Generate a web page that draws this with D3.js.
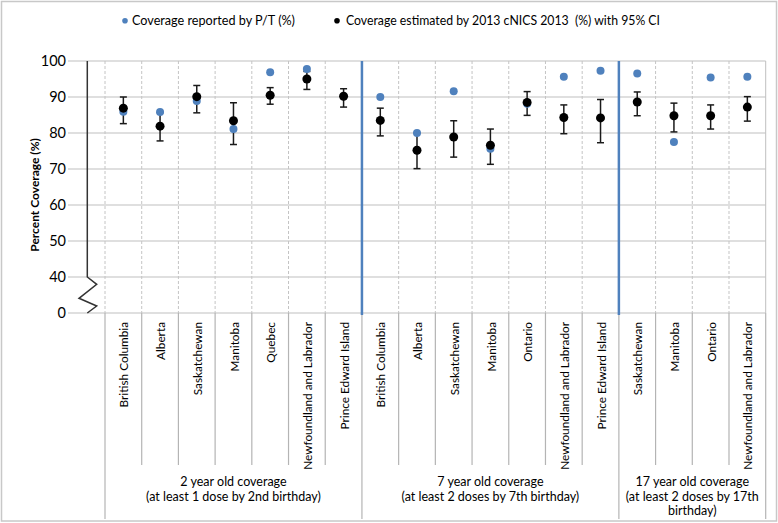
<!DOCTYPE html>
<html><head><meta charset="utf-8">
<script src="https://cdn.jsdelivr.net/npm/d3@7"></script>
<style>body{margin:0;background:#fff}svg{display:block;font-family:Lato,"Open Sans",sans-serif}</style>
</head><body><svg id="c" width="778" height="523"></svg>
<script>
const categories = ["British Columbia","Alberta","Saskatchewan","Manitoba","Quebec","Newfoundland and Labrador","Prince Edward Island",
  "British Columbia","Alberta","Saskatchewan","Manitoba","Ontario","Newfoundland and Labrador","Prince Edward Island",
  "Saskatchewan","Manitoba","Ontario","Newfoundland and Labrador"];
const groupLabels = [["2 year old coverage","(at least 1 dose by 2nd birthday)"],
  ["7 year old coverage","(at least 2 doses by 7th birthday)"],
  ["17 year old coverage","(at least 2 doses by 17th","birthday)"]];
const groupSizes = [7, 7, 4];
const reported  = [85.9, 85.8, 88.9, 81.1, 96.9, 97.8, null, 90.0, 80.0, 91.6, 75.6, 88.1, 95.6, 97.3, 96.5, 77.5, 95.4, 95.6];
const estimated = [86.9, 81.9, 90.1, 83.4, 90.5, 95.0, 90.2, 83.5, 75.2, 78.9, 76.6, 88.5, 84.3, 84.2, 88.6, 84.8, 84.8, 87.2];
const ciLower   = [82.6, 77.8, 85.6, 76.8, 88.0, 92.1, 87.2, 79.2, 70.1, 73.3, 71.3, 84.9, 79.8, 77.3, 84.8, 80.3, 81.1, 83.3];
const ciUpper   = [90.0, 85.7, 93.2, 88.4, 92.6, 97.1, 92.3, 86.9, 80.0, 83.4, 81.1, 91.5, 87.8, 89.3, 91.4, 88.3, 87.8, 90.1];
const yTicks = [0, 40, 50, 60, 70, 80, 90, 100];
const legendLabels = ["Coverage reported by P/T (%)", "Coverage estimated by 2013 cNICS 2013  (%) with 95% CI"];

const svg = d3.select("#c");
const blue = "#4f81bd";
// outer frame
svg.append("rect").attr("x",1.5).attr("y",1.5).attr("width",775).attr("height",519.5)
  .attr("fill","none").attr("stroke","#c8c8c8").attr("stroke-width",1.5);

const y = d3.scaleLinear().domain([0,40,100]).range([313,277,61]);
const x = d3.scaleBand().domain(d3.range(categories.length)).range([105,765.7]).padding(0);
const bw = x.bandwidth();
const gridLeft = 68, gridRight = 765.7;

// horizontal gridlines
svg.append("g").selectAll("line").data(yTicks).join("line")
  .attr("x1",gridLeft).attr("x2",gridRight).attr("y1",d=>y(d)).attr("y2",d=>y(d))
  .attr("stroke","#bfbfbf").attr("stroke-width",1.2);

// y tick labels
svg.append("g").selectAll("text").data(yTicks).join("text")
  .attr("x",gridLeft-2).attr("y",d=>y(d)).attr("dy","0.35em").attr("text-anchor","end")
  .attr("font-size",14.5).attr("fill","#000").text(d=>d);

// group boundaries
const groupStarts = [0];
groupSizes.forEach((s,i)=>groupStarts.push(groupStarts[i]+s));
const isGroupEdge = k => groupStarts.includes(k);

// vertical lines
for (let k=0;k<=categories.length;k++){
  const xx = k<categories.length ? x(k) : gridRight;
  const inner = k>0 && k<categories.length && isGroupEdge(k);
  if (!inner) {
    svg.append("line").attr("x1",xx).attr("x2",xx).attr("y1",y(100)).attr("y2",y(0))
      .attr("stroke", k===categories.length ? "#bfbfbf" : "#c4c4c4")
      .attr("stroke-dasharray", k===categories.length ? null : "3,2").attr("stroke-width",1);
  }
  // below axis separators
  svg.append("line").attr("x1",xx).attr("x2",xx).attr("y1",y(0))
    .attr("y2", isGroupEdge(k) ? 519 : 465).attr("stroke","#b4b4b4").attr("stroke-width",1.2);
}
// blue group separators
groupStarts.slice(1,-1).forEach(k=>{
  svg.append("line").attr("x1",x(k)).attr("x2",x(k)).attr("y1",y(100)).attr("y2",y(0)+2)
    .attr("stroke",blue).attr("stroke-width",2.5);
});

// y axis line with break
const ax = 87.3;
svg.append("path").attr("fill","none").attr("stroke","#333").attr("stroke-width",1.5)
  .attr("d",`M${ax},${y(100)} L${ax},${y(40)} L96.7,284.3 L79,298.3 L96.7,306 L${ax},${y(0)}`);

// y axis title
svg.append("text").attr("transform",`translate(39,195) rotate(-90)`).attr("text-anchor","middle")
  .attr("font-size",12).attr("font-weight","bold").text("Percent Coverage (%)");

// category labels
svg.append("g").selectAll("text").data(categories).join("text")
  .attr("transform",(d,i)=>`translate(${x(i)+bw/2+1},322) rotate(-90)`)
  .attr("text-anchor","end").attr("dy","0.35em").attr("font-size",11.8).text(d=>d);

// group labels
groupLabels.forEach((lines,g)=>{
  const cx = ( (groupStarts[g+1]<categories.length ? x(groupStarts[g+1]) : gridRight) + x(groupStarts[g]) )/2;
  lines.forEach((t,j)=>{
    svg.append("text").attr("x",cx).attr("y",482+j*14.5).attr("dy","0.35em").attr("text-anchor","middle")
      .attr("font-size",12.5).text(t);
  });
});

// error bars
const eb = svg.append("g").attr("stroke","#1a1a1a").attr("stroke-width",1.5);
estimated.forEach((v,i)=>{
  const cx = x(i)+bw/2;
  eb.append("line").attr("x1",cx).attr("x2",cx).attr("y1",y(ciUpper[i])).attr("y2",y(ciLower[i]));
  eb.append("line").attr("x1",cx-3.5).attr("x2",cx+3.5).attr("y1",y(ciUpper[i])).attr("y2",y(ciUpper[i]));
  eb.append("line").attr("x1",cx-3.5).attr("x2",cx+3.5).attr("y1",y(ciLower[i])).attr("y2",y(ciLower[i]));
});
// reported points
svg.append("g").selectAll("circle").data(reported.map((v,i)=>({v,i})).filter(d=>d.v!=null)).join("circle")
  .attr("cx",d=>x(d.i)+bw/2).attr("cy",d=>y(d.v)).attr("r",4).attr("fill",blue);
// estimated points
svg.append("g").selectAll("circle").data(estimated).join("circle")
  .attr("cx",(d,i)=>x(i)+bw/2).attr("cy",d=>y(d)).attr("r",4.5).attr("fill","#000");

// legend
svg.append("circle").attr("cx",125).attr("cy",20.7).attr("r",2.8).attr("fill",blue);
svg.append("text").attr("x",132).attr("y",20.7).attr("dy","0.35em").attr("font-size",13.5)
  .attr("textLength",163).attr("lengthAdjust","spacingAndGlyphs").text(legendLabels[0]);
svg.append("circle").attr("cx",337).attr("cy",20.7).attr("r",2.8).attr("fill","#000");
svg.append("text").attr("x",346).attr("y",20.7).attr("dy","0.35em").attr("font-size",13.5).style("white-space","pre")
  .attr("textLength",314).attr("lengthAdjust","spacingAndGlyphs").text(legendLabels[1]);
</script></body></html>
